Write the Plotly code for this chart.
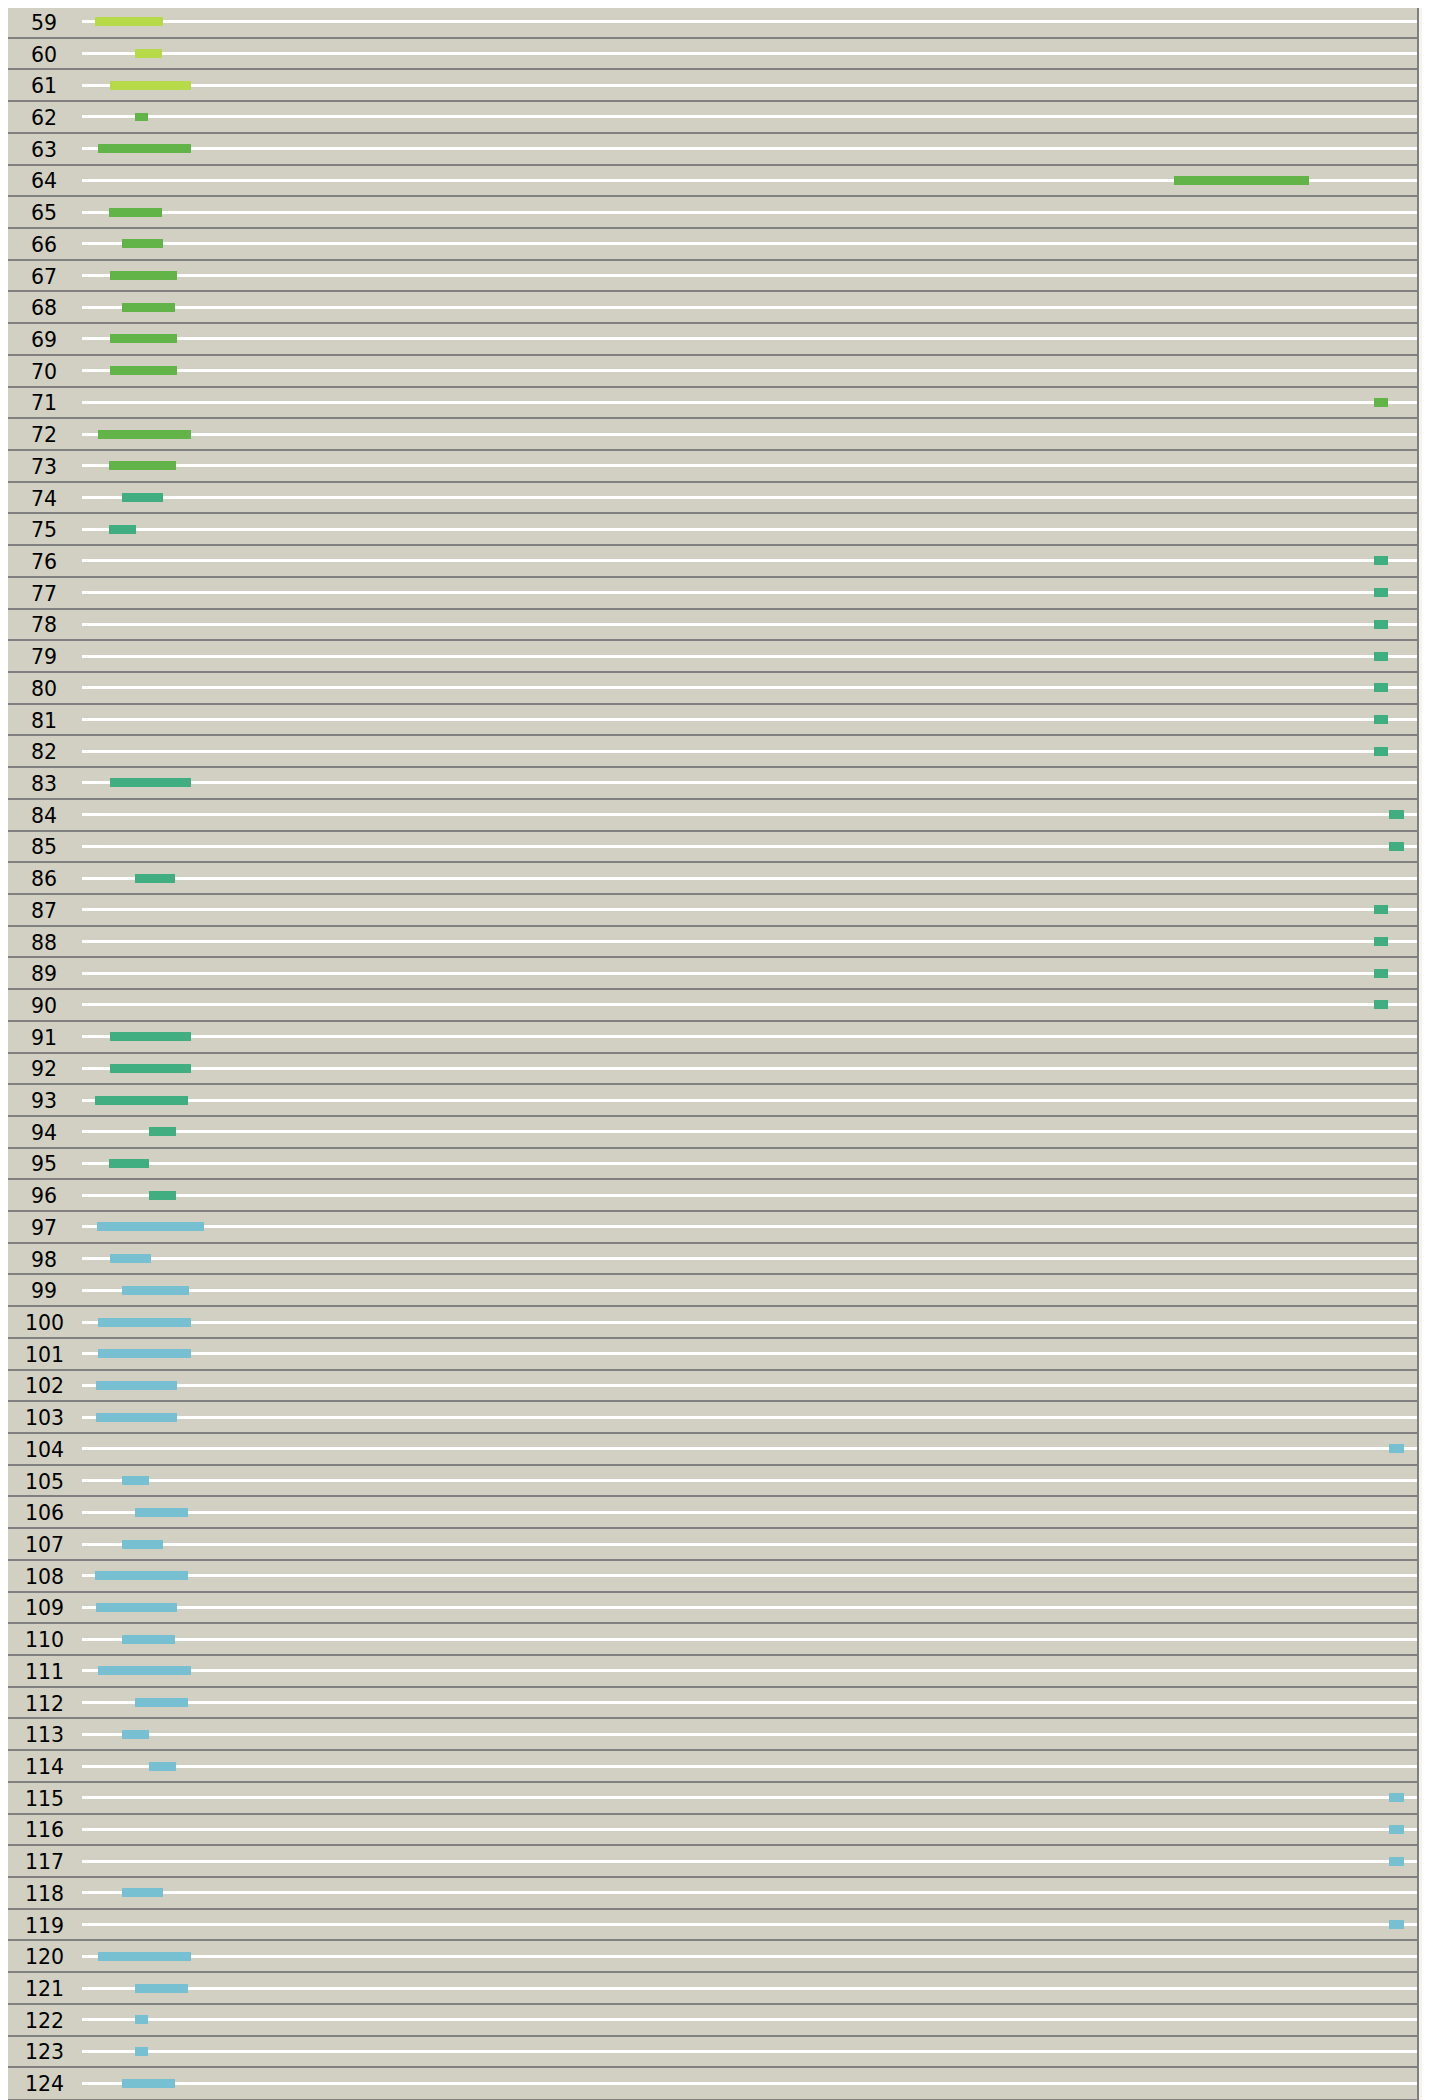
import plotly.graph_objects as go

# ---- data ----
rows = [str(i) for i in range(59, 125)]

starts = [0.97, 3.97, 2.1, 3.97, 1.2, 81.8, 2.02, 3.0, 2.1, 3.0,
          2.1, 2.1, 96.8, 1.2, 2.02, 3.0, 2.02, 96.8, 96.8, 96.8,
          96.8, 96.8, 96.8, 96.8, 2.1, 97.9, 97.9, 3.97, 96.8, 96.8,
          96.8, 96.8, 2.1, 2.1, 0.97, 4.99, 2.02, 4.99, 1.12, 2.1,
          3.0, 1.2, 1.2, 1.05, 1.05, 97.9, 3.0, 3.97, 3.0, 0.97,
          1.05, 3.0, 1.2, 3.97, 3.0, 4.99, 97.9, 97.9, 97.9, 3.0,
          97.9, 1.2, 3.97, 3.97, 3.97, 3.0]

ends = [6.07, 5.97, 8.16, 4.94, 8.16, 91.9, 6.0, 6.07, 7.1, 6.97,
        7.1, 7.1, 97.8, 8.16, 7.04, 6.07, 4.04, 97.8, 97.8, 97.8,
        97.8, 97.8, 97.8, 97.8, 8.16, 99.0, 99.0, 6.97, 97.8, 97.8,
        97.8, 97.8, 8.16, 8.16, 7.94, 7.04, 4.99, 7.04, 9.14, 5.17,
        8.04, 8.16, 8.16, 7.1, 7.1, 99.0, 4.99, 7.94, 6.07, 7.94,
        7.1, 6.97, 8.16, 7.94, 4.99, 7.04, 99.0, 99.0, 99.0, 6.07,
        99.0, 8.16, 7.94, 4.94, 4.94, 6.97]

# group of each row (colour band)
groups = (["A"] * 3) + (["B"] * 12) + (["C"] * 23) + (["D"] * 28)

track_start = 0
track_end = 100

group_colors = {"A": "#b7da48", "B": "#63b448", "C": "#41ae81", "D": "#77c0d1"}

# ---- layout constants ----
ROW_PX = 31.72
BAR_PX = 9
TRACK_PX = 3
X_MIN = -5.544
LABEL_X = -2.847

fig = go.Figure()

# white tracks
fig.add_trace(go.Bar(
    y=rows,
    x=[track_end - track_start] * len(rows),
    base=[track_start] * len(rows),
    orientation="h",
    width=TRACK_PX / ROW_PX,
    marker=dict(color="#ffffff", line=dict(width=0)),
    hoverinfo="skip",
    showlegend=False,
))

# coloured bars
fig.add_trace(go.Bar(
    y=rows,
    x=[e - s for s, e in zip(starts, ends)],
    base=starts,
    orientation="h",
    width=BAR_PX / ROW_PX,
    marker=dict(color=[group_colors[g] for g in groups], line=dict(width=0)),
    showlegend=False,
))

# row labels (category axis: annotation y is the category index)
for idx, r in enumerate(rows):
    fig.add_annotation(
        x=LABEL_X, y=idx, xref="x", yref="y",
        text=r, showarrow=False,
        xanchor="center", yanchor="middle", yshift=-1,
        font=dict(family="DejaVu Sans", size=20.5, color="#000000"),
    )

n = len(rows)
fig.update_layout(
    width=1422,
    height=2092,
    margin=dict(l=0, r=13, t=0, b=1),
    barmode="overlay",
    bargap=0,
    plot_bgcolor="#d2d0c2",
    paper_bgcolor="#f5f5ee",
    xaxis=dict(
        range=[X_MIN, track_end],
        showgrid=False,
        zeroline=False,
        showticklabels=False,
        ticks="",
        showline=True,
        linecolor="#808080",
        linewidth=2,
        fixedrange=True,
    ),
    yaxis=dict(
        type="category",
        categoryorder="array",
        categoryarray=rows,
        range=[n - 0.5, -0.437],
        tickson="boundaries",
        showgrid=True,
        gridcolor="#808080",
        gridwidth=2,
        showticklabels=False,
        ticks="",
        showline=True,
        mirror=True,
        linecolor="#808080",
        linewidth=2,
        zeroline=False,
        fixedrange=True,
    ),
)

fig.write_html("out.html")
